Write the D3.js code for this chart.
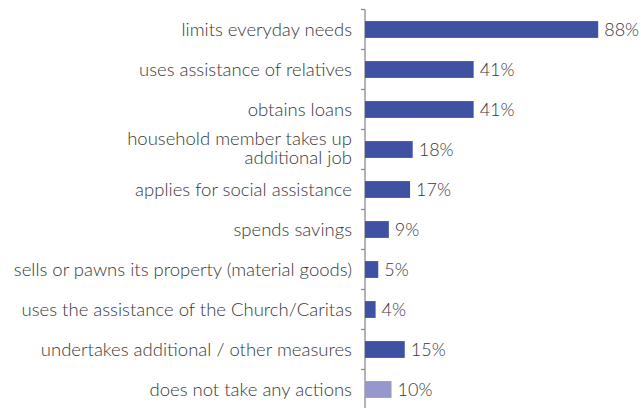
<!DOCTYPE html>
<html>
<head>
<meta charset="utf-8">
<script src="https://cdn.jsdelivr.net/npm/d3@7"></script>
<style>
  html, body { margin: 0; padding: 0; background: #fff; }
  svg text { font-family: Lato, "Open Sans", sans-serif; font-weight: 300; }
</style>
</head>
<body>
<svg id="chart" width="641" height="408"></svg>
<script>
// Household coping strategies, share of respondents (%)
const categories = [
  "limits everyday needs",
  "uses assistance of relatives",
  "obtains loans",
  "household member takes up|additional job",
  "applies for social assistance",
  "spends savings",
  "sells or pawns its property (material goods)",
  "uses the assistance of the Church/Caritas",
  "undertakes additional / other measures",
  "does not take any actions"
];
const values = [88, 41, 41, 18, 17, 9, 5, 4, 15, 10];
const highlight = [false, false, false, false, false, false, false, false, false, true];

const svg = d3.select("#chart");
const axisX = 365;

const y = d3.scaleBand()
  .domain(categories)
  .range([9.5, 409.5])
  .paddingInner(0.58)
  .paddingOuter(0.29);

const x = d3.scaleLinear().domain([0, 100]).range([axisX, axisX + 265]);

// category axis with ticks on band boundaries
svg.append("line")
  .attr("x1", axisX).attr("x2", axisX)
  .attr("y1", 9.5).attr("y2", 410)
  .attr("stroke", "#8c8c8c").attr("stroke-width", 1.3);

const step = y.step();
categories.forEach((c, i) => {
  const yy = 9.5 + i * step;
  svg.append("line")
    .attr("x1", axisX - 4).attr("x2", axisX)
    .attr("y1", yy).attr("y2", yy)
    .attr("stroke", "#8c8c8c").attr("stroke-width", 1.3);
});

// bars
svg.selectAll("rect.bar")
  .data(categories)
  .enter().append("rect")
  .attr("class", "bar")
  .attr("x", x(0))
  .attr("y", d => y(d))
  .attr("width", (d, i) => x(values[i]) - x(0))
  .attr("height", y.bandwidth())
  .attr("fill", (d, i) => highlight[i] ? "#9697cc" : "#3f51a2");

// value labels
svg.selectAll("text.val")
  .data(categories)
  .enter().append("text")
  .attr("class", "val")
  .attr("x", (d, i) => x(values[i]) + 6)
  .attr("y", d => y(d) + y.bandwidth() / 2)
  .attr("dy", "0.36em")
  .attr("font-size", 18)
  .attr("fill", "#383838")
  .text((d, i) => values[i] + "%");

// category labels
categories.forEach(c => {
  const lines = c.split("|");
  const cy = y(c) + y.bandwidth() / 2;
  const lh = 18.6;
  const shift = lines.length > 1 ? -1.7 : 0;
  const t = svg.append("text")
    .attr("text-anchor", "end")
    .attr("font-size", 18.5)
    .attr("fill", "#383838");
  lines.forEach((ln, j) => {
    t.append("tspan")
      .attr("x", 352)
      .attr("y", cy + shift + (j - (lines.length - 1) / 2) * lh)
      .attr("dy", "0.36em")
      .text(ln);
  });
});
</script>
</body>
</html>
